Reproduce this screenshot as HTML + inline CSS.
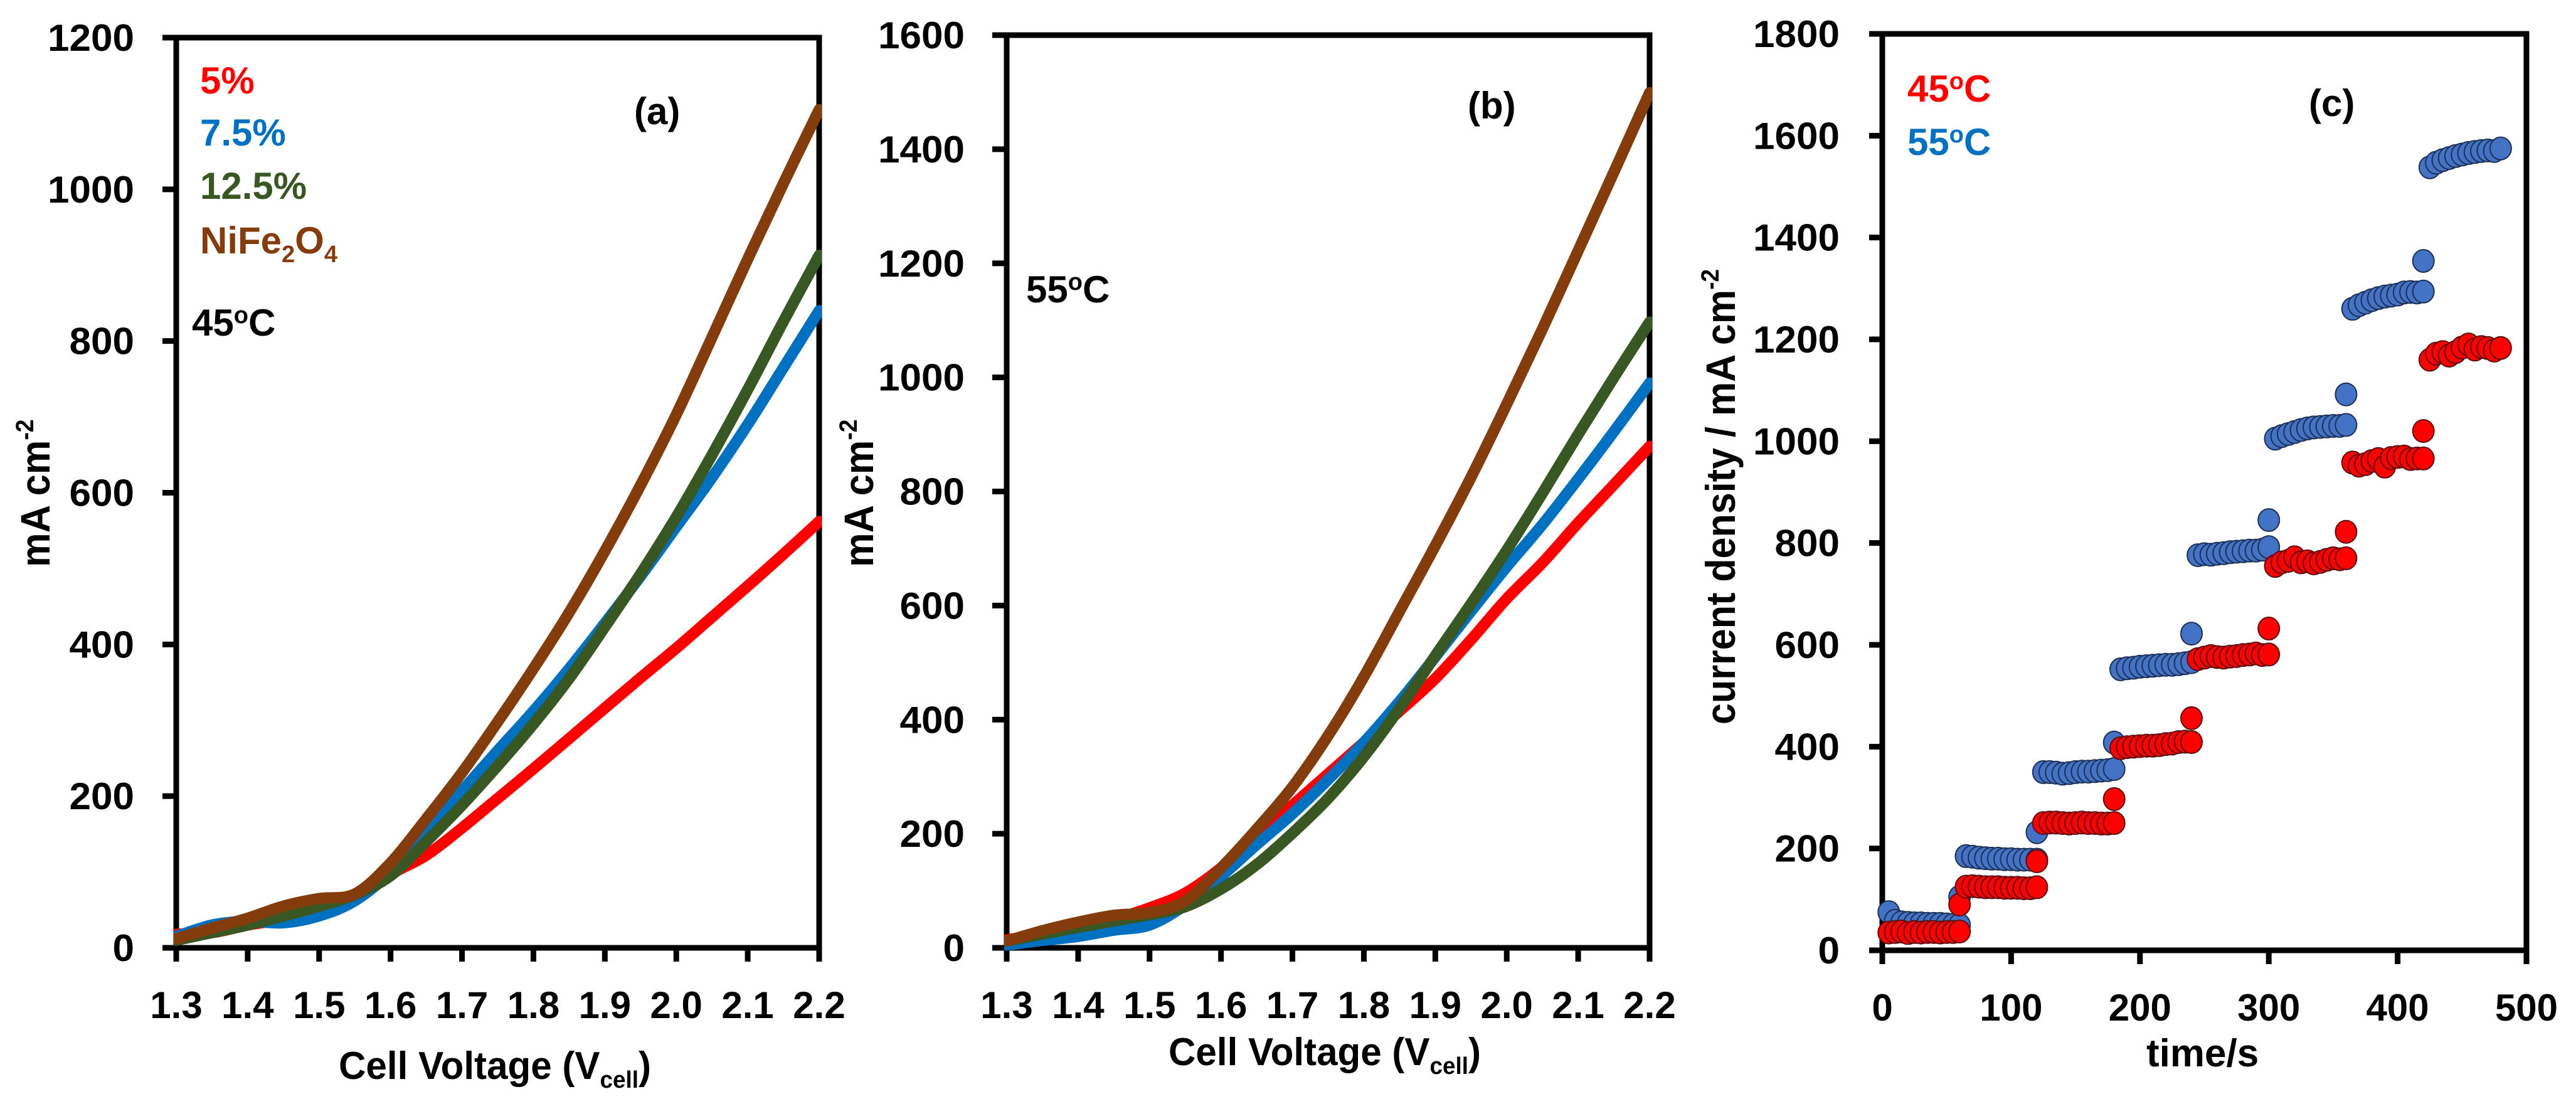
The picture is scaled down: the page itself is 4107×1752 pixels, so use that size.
<!DOCTYPE html>
<html lang="en">
<head>
<meta charset="utf-8">
<title>Current density charts</title>
<style>
html,body{margin:0;padding:0;background:#fff;}
svg{display:block;}
text{font-family:"Liberation Sans",sans-serif;font-weight:bold;fill:#000;}
</style>
</head>
<body>
<svg id="figure" xmlns="http://www.w3.org/2000/svg" width="4107" height="1752" viewBox="0 0 4107 1752">
<defs>
<clipPath id="clip-a"><rect x="277" y="20" width="1033" height="1500"/></clipPath>
<clipPath id="clip-b"><rect x="1601" y="20" width="1033" height="1500"/></clipPath>
</defs>
<rect width="4107" height="1752" fill="#fff"/>
<g id="panel-a"></g>
<g id="panel-b"></g>
<g id="panel-c"></g>

<g>
<text x="319" y="149" font-size="60" style="fill:#ff0000">5%</text>
<text x="319" y="232" font-size="60" style="fill:#0070c0">7.5%</text>
<text x="319" y="317" font-size="60" style="fill:#385723">12.5%</text>
<text x="319" y="404" font-size="60" style="fill:#843c0c">NiFe<tspan font-size="38" dy="14">2</tspan><tspan font-size="60" dy="-14">O</tspan><tspan font-size="38" dy="14">4</tspan></text>
<text x="306" y="535" font-size="60">45<tspan font-size="38" dy="-20">o</tspan><tspan font-size="60" dy="20">C</tspan></text>
<text x="1011" y="198" font-size="60">(a)</text>
<text transform="translate(540,1720) scale(0.97,1)" font-size="62">Cell Voltage (V<tspan font-size="38" dy="14">cell</tspan><tspan font-size="62" dy="-14">)</tspan></text>
<text transform="translate(79,904) rotate(-90) scale(0.93,1)" font-size="66">mA cm<tspan font-size="40" dy="-26">-2</tspan></text>
</g>

<g>
<text x="1636" y="482" font-size="60">55<tspan font-size="38" dy="-20">o</tspan><tspan font-size="60" dy="20">C</tspan></text>
<text x="2340" y="189" font-size="60">(b)</text>
<text transform="translate(1863,1698) scale(0.97,1)" font-size="62">Cell Voltage (V<tspan font-size="38" dy="14">cell</tspan><tspan font-size="62" dy="-14">)</tspan></text>
<text transform="translate(1392,904) rotate(-90) scale(0.93,1)" font-size="66">mA cm<tspan font-size="40" dy="-26">-2</tspan></text>
</g>

<g>
<text x="3041" y="162" font-size="60" style="fill:#ff0000">45<tspan font-size="38" dy="-20">o</tspan><tspan font-size="60" dy="20">C</tspan></text>
<text x="3041" y="247" font-size="60" style="fill:#0070c0">55<tspan font-size="38" dy="-20">o</tspan><tspan font-size="60" dy="20">C</tspan></text>
<text x="3681" y="185" font-size="60">(c)</text>
<text x="3422" y="1700" font-size="62">time/s</text>
<text transform="translate(2766,1155) rotate(-90) scale(0.925,1)" font-size="66">current density / mA cm<tspan font-size="40" dy="-26">-2</tspan></text>
</g>
</svg>

<script>
var voltages = [1.30,1.35,1.40,1.45,1.50,1.55,1.60,1.65,1.70,1.75,1.80,1.85,1.90,1.95,2.00,2.05,2.10,2.15,2.20];
var voltageTicks = ["1.3","1.4","1.5","1.6","1.7","1.8","1.9","2.0","2.1","2.2"];
var tickVolts = [1.3,1.4,1.5,1.6,1.7,1.8,1.9,2.0,2.1,2.2];

var aRed   = [18,20,30,38,52,66,97,122,158,197,236,276,316,356,395,436,477,519,562];
var aBlue  = [15,30,35,33,42,62,100,155,207,260,312,368,428,490,555,620,690,765,840];
var aGreen = [10,20,30,42,55,70,95,140,188,240,295,355,423,493,568,650,736,826,913];
var aBrown = [12,26,39,55,65,71,112,170,231,298,368,442,523,610,703,805,908,1008,1105];
var aTicks = [0,200,400,600,800,1000,1200];

var bRed   = [14,24,36,50,70,96,140,196,250,305,360,415,472,540,612,675,745,812,879];
var bBlue  = [5,13,20,31,40,75,125,181,235,295,360,432,510,590,668,742,822,905,990];
var bGreen = [12,24,36,47,58,72,103,146,201,262,335,420,512,603,697,797,900,1000,1097];
var bBrown = [12,30,45,57,62,82,140,208,282,372,475,590,705,825,953,1085,1222,1360,1499];
var bTicks = [0,200,400,600,800,1000,1200,1400,1600];

var cTime = [5,10,15,20,25,30,35,40,45,50,55,60,60,
  65,70,75,80,85,90,95,100,105,110,115,120,120,
  125,130,135,140,145,150,155,160,165,170,175,180,180,
  185,190,195,200,205,210,215,220,225,230,235,240,240,
  245,250,255,260,265,270,275,280,285,290,295,300,300,
  305,310,315,320,325,330,335,340,345,350,355,360,360,
  365,370,375,380,385,390,395,400,405,410,415,420,420,
  425,430,435,440,445,450,455,460,465,470,475,480];
var cBlue = [75,58,55,54,53,53,52,52,52,51,50,50,105,
  185,184,182,181,180,180,179,179,178,178,178,178,232,
  350,350,349,347,348,350,351,351,352,353,354,356,408,
  552,554,555,557,558,559,560,561,561,562,564,566,622,
  776,778,777,779,780,782,783,784,785,785,787,792,845,
  1005,1010,1014,1018,1022,1025,1027,1028,1029,1030,1030,1032,1092,
  1260,1267,1272,1277,1281,1284,1286,1288,1292,1293,1292,1294,1354,
  1538,1547,1552,1556,1560,1563,1566,1568,1570,1571,1570,1575];
var cRed = [35,36,37,34,36,35,36,36,35,36,36,37,90,
  125,126,125,124,124,124,123,123,123,122,122,124,175,
  250,251,251,250,249,250,251,250,250,249,249,250,297,
  397,399,400,401,402,402,403,405,406,409,410,409,456,
  572,575,578,576,575,577,578,580,581,583,580,581,632,
  755,762,765,772,762,764,760,763,767,770,768,770,822,
  958,952,955,961,965,950,967,969,970,965,966,966,1020,
  1160,1172,1175,1168,1175,1184,1190,1180,1185,1183,1178,1183];
var cTicksY = [0,200,400,600,800,1000,1200,1400,1600,1800];
var cTicksX = [0,100,200,300,400,500];

var NS = "http://www.w3.org/2000/svg";

function makeAxis(d0, d1, r0, r1) {
  return function (v) { return r0 + (v - d0) * (r1 - r0) / (d1 - d0); };
}

function drawFrame(group, frame, xScale, yScale, xVals, xLabels, yVals, yLabels) {
  var parts = [
    [frame.left, frame.top, frame.left, frame.tickBottom],
    [frame.right, frame.top - 4, frame.right, frame.tickBottom],
    [frame.tickLeft, frame.top, frame.right + 4, frame.top],
    [frame.tickLeft, frame.bottom, frame.right + 4, frame.bottom]
  ];
  parts.forEach(function (p) {
    var ln = document.createElementNS(NS, "line");
    ln.setAttribute("x1", p[0]);
    ln.setAttribute("y1", p[1]);
    ln.setAttribute("x2", p[2]);
    ln.setAttribute("y2", p[3]);
    ln.setAttribute("stroke", "#000");
    ln.setAttribute("stroke-width", 9);
    
    
    group.appendChild(ln);
  });
  yVals.forEach(function (v, i) {
    var y = yScale(v);
    var tick = document.createElementNS(NS, "line");
    tick.setAttribute("x1", frame.tickLeft);
    tick.setAttribute("x2", frame.left);
    tick.setAttribute("y1", y);
    tick.setAttribute("y2", y);
    tick.setAttribute("stroke", "#000");
    tick.setAttribute("stroke-width", 9);
    
    
    group.appendChild(tick);
    var label = document.createElementNS(NS, "text");
    label.setAttribute("x", frame.labelRight);
    label.setAttribute("y", y + 21);
    label.setAttribute("text-anchor", "end");
    label.setAttribute("font-size", 60);
    label.setAttribute("textLength", String(yLabels[i]).length * 34.5);
    label.setAttribute("lengthAdjust", "spacingAndGlyphs");
    label.textContent = yLabels[i];
    
    
    group.appendChild(label);
  });
  xVals.forEach(function (v, i) {
    var x = xScale(v);
    var tick = document.createElementNS(NS, "line");
    tick.setAttribute("x1", x);
    tick.setAttribute("x2", x);
    tick.setAttribute("y1", frame.bottom);
    tick.setAttribute("y2", frame.tickBottom);
    tick.setAttribute("stroke", "#000");
    tick.setAttribute("stroke-width", 9);
    
    
    group.appendChild(tick);
    var label = document.createElementNS(NS, "text");
    label.setAttribute("x", x);
    label.setAttribute("y", frame.xLabelBase);
    label.setAttribute("text-anchor", "middle");
    label.setAttribute("font-size", 60);
    label.textContent = xLabels[i];
    
    
    group.appendChild(label);
  });
}

function drawCurve(group, xs, ys, xScale, yScale, color, name, clipId) {
  var px = xs.map(function (x) { return xScale(x); });
  var py = ys.map(function (y) { return yScale(y); });
  var d = "M" + px[0].toFixed(1) + " " + py[0].toFixed(1);
  for (var i = 0; i < px.length - 1; i++) {
    var a = Math.max(i - 1, 0);
    var b = Math.min(i + 2, px.length - 1);
    var c1x = px[i] + (px[i + 1] - px[a]) / 6;
    var c1y = py[i] + (py[i + 1] - py[a]) / 6;
    var c2x = px[i + 1] - (px[b] - px[i]) / 6;
    var c2y = py[i + 1] - (py[b] - py[i]) / 6;
    d += " C" + c1x.toFixed(1) + " " + c1y.toFixed(1) + " " + c2x.toFixed(1) + " " + c2y.toFixed(1) + " " + px[i + 1].toFixed(1) + " " + py[i + 1].toFixed(1);
  }
  var line = document.createElementNS(NS, "path");
  line.setAttribute("d", d);
  line.setAttribute("fill", "none");
  line.setAttribute("stroke", color);
  line.setAttribute("stroke-width", 18);
  line.setAttribute("stroke-linejoin", "round");
  line.setAttribute("stroke-linecap", "round");
  line.setAttribute("clip-path", "url(#" + clipId + ")");
  
  
  group.appendChild(line);
}

function drawMarkers(group, xs, ys, xScale, yScale, fill, stroke, name) {
  xs.forEach(function (x, i) {
    var dot = document.createElementNS(NS, "ellipse");
    dot.setAttribute("cx", xScale(x).toFixed(1));
    dot.setAttribute("cy", yScale(ys[i]).toFixed(1));
    dot.setAttribute("rx", 17);
    dot.setAttribute("ry", 18);
    dot.setAttribute("fill", fill);
    dot.setAttribute("stroke", stroke);
    dot.setAttribute("stroke-width", 2);
    
    
    group.appendChild(dot);
  });
}

// Panel (a)
var xA = makeAxis(1.3, 2.2, 281, 1306);
var yA = makeAxis(0, 1200, 1511, 60);
var groupA = document.getElementById("panel-a");
drawFrame(groupA, {left:281,right:1306,top:60,bottom:1511,tickLeft:259,tickBottom:1533,labelRight:214,xLabelBase:1623},
  xA, yA, tickVolts, voltageTicks, aTicks, aTicks);
drawCurve(groupA, voltages, aRed, xA, yA, "#ff0000", "series-5-percent-a", "clip-a");
drawCurve(groupA, voltages, aBlue, xA, yA, "#0070c0", "series-7-5-percent-a", "clip-a");
drawCurve(groupA, voltages, aGreen, xA, yA, "#385723", "series-12-5-percent-a", "clip-a");
drawCurve(groupA, voltages, aBrown, xA, yA, "#843c0c", "series-nife2o4-a", "clip-a");

// Panel (b)
var xB = makeAxis(1.3, 2.2, 1605, 2630);
var yB = makeAxis(0, 1600, 1511, 56);
var groupB = document.getElementById("panel-b");
drawFrame(groupB, {left:1605,right:2630,top:56,bottom:1511,tickLeft:1582,tickBottom:1533,labelRight:1538,xLabelBase:1623},
  xB, yB, tickVolts, voltageTicks, bTicks, bTicks);
drawCurve(groupB, voltages, bRed, xB, yB, "#ff0000", "series-5-percent-b", "clip-b");
drawCurve(groupB, voltages, bBlue, xB, yB, "#0070c0", "series-7-5-percent-b", "clip-b");
drawCurve(groupB, voltages, bGreen, xB, yB, "#385723", "series-12-5-percent-b", "clip-b");
drawCurve(groupB, voltages, bBrown, xB, yB, "#843c0c", "series-nife2o4-b", "clip-b");

// Panel (c)
var xC = makeAxis(0, 500, 3001, 4028);
var yC = makeAxis(0, 1800, 1515, 54);
var groupC = document.getElementById("panel-c");
drawFrame(groupC, {left:3001,right:4028,top:54,bottom:1515,tickLeft:2980,tickBottom:1537,labelRight:2933,xLabelBase:1627},
  xC, yC, cTicksX, cTicksX, cTicksY, cTicksY);
drawMarkers(groupC, cTime, cBlue, xC, yC, "#4472c4", "#1c2f55", "point-55c");
drawMarkers(groupC, cTime, cRed, xC, yC, "#ff0000", "#5a1010", "point-45c");
</script>
</body>
</html>
